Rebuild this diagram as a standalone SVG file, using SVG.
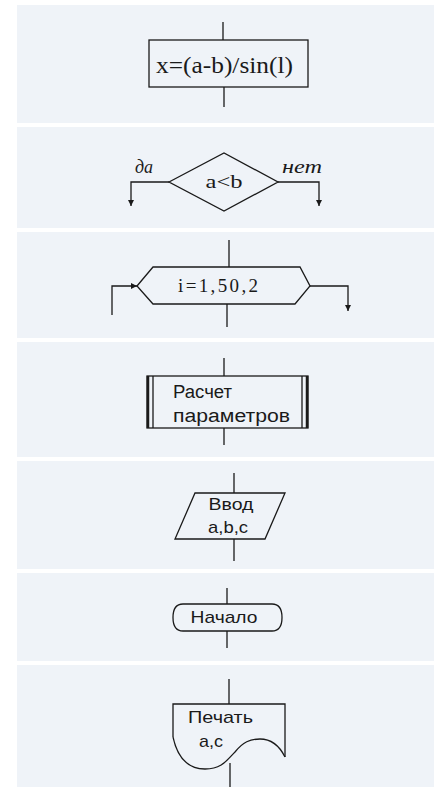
<svg xmlns="http://www.w3.org/2000/svg" width="434" height="787" viewBox="0 0 434 787">
<style>
.bg{fill:#eff3f8}
.ln{stroke:#1a1a1a;stroke-width:1.3;fill:none}
.sh{stroke:#1a1a1a;stroke-width:1.3;fill:none}
.serif{font-family:"Liberation Serif","Times New Roman",serif;fill:#1a1a1a}
.sans{font-family:"Liberation Sans",Arial,sans-serif;fill:#1a1a1a}
.it{font-family:"Liberation Serif",serif;font-style:italic;fill:#1a1a1a}
</style>
<defs>
<marker id="ah" viewBox="0 0 8 8" refX="8" refY="4" markerWidth="6" markerHeight="6" markerUnits="userSpaceOnUse" orient="auto">
<path d="M0,0 L8,4 L0,8 Z" fill="#1a1a1a"/>
</marker>
</defs>
<rect width="434" height="787" fill="#ffffff"/>
<g id="panels">
<rect class="bg" x="17" y="5" width="417" height="118"/>
<rect class="bg" x="17" y="127" width="417" height="101"/>
<rect class="bg" x="17" y="232" width="417" height="106"/>
<rect class="bg" x="17" y="342" width="417" height="115"/>
<rect class="bg" x="17" y="461" width="417" height="108"/>
<rect class="bg" x="17" y="573" width="417" height="88"/>
<rect class="bg" x="17" y="665" width="417" height="122"/>
</g>
<g id="connectors">
<line class="ln" x1="223" y1="22" x2="223" y2="40"/>
<line class="ln" x1="224" y1="87" x2="224" y2="107"/>
<polyline class="ln" points="169,182 131,182 131,206" marker-end="url(#ah)"/>
<polyline class="ln" points="278,182 319,182 319,206" marker-end="url(#ah)"/>
<line class="ln" x1="229" y1="240" x2="229" y2="267"/>
<line class="ln" x1="227" y1="304" x2="227" y2="327"/>
<polyline class="ln" points="112,315 112,286 137,286" marker-end="url(#ah)"/>
<polyline class="ln" points="310,286 348,286 348,311" marker-end="url(#ah)"/>
<line class="ln" x1="224" y1="358" x2="224" y2="376"/>
<line class="ln" x1="224" y1="428" x2="224" y2="445"/>
<line class="ln" x1="234" y1="473" x2="234" y2="493"/>
<line class="ln" x1="234" y1="539" x2="234" y2="561"/>
<line class="ln" x1="227" y1="588" x2="227" y2="604"/>
<line class="ln" x1="227" y1="631" x2="227" y2="648"/>
<line class="ln" x1="229" y1="679" x2="229" y2="704"/>
<line class="ln" x1="230" y1="763" x2="230" y2="787"/>
</g>
<g id="process">
<rect class="sh" x="149" y="40" width="159" height="47"/>
<text class="serif" x="156" y="73" font-size="23" textLength="137" lengthAdjust="spacingAndGlyphs">x=(a-b)/sin(l)</text>
</g>
<g id="decision">
<polygon class="sh" points="169,182 224,153 278,182 224,211"/>
<text class="serif" x="224" y="188" font-size="19" text-anchor="middle" textLength="37" lengthAdjust="spacingAndGlyphs">a&lt;b</text>
<text class="it" x="135" y="173" font-size="18">да</text>
<text class="it" x="282" y="173" font-size="18" textLength="40" lengthAdjust="spacingAndGlyphs">нет</text>
</g>
<g id="loop">
<polygon class="sh" points="137,286 153,267 300,267 310,286 295,304 153,304"/>
<text class="serif" x="218" y="292" font-size="19" text-anchor="middle" textLength="80" lengthAdjust="spacing">i=1,50,2</text>
</g>
<g id="subprocess">
<rect class="sh" x="147" y="376" width="161" height="52"/>
<line stroke="#1a1a1a" stroke-width="2.5" x1="148" y1="376" x2="148" y2="428"/>
<line class="ln" x1="153" y1="376" x2="153" y2="428"/>
<line class="ln" x1="302" y1="376" x2="302" y2="428"/>
<line stroke="#1a1a1a" stroke-width="2.5" x1="307" y1="376" x2="307" y2="428"/>
<text class="sans" x="173" y="398" font-size="18" textLength="59" lengthAdjust="spacingAndGlyphs">Расчет</text>
<text class="sans" x="173" y="422" font-size="18" textLength="117" lengthAdjust="spacingAndGlyphs">параметров</text>
</g>
<g id="input">
<polygon class="sh" points="195,493 285,493 265,539 175,539"/>
<text class="sans" x="231" y="510" font-size="17" text-anchor="middle" textLength="45" lengthAdjust="spacingAndGlyphs">Ввод</text>
<text class="sans" x="228" y="533" font-size="17" text-anchor="middle" textLength="40" lengthAdjust="spacingAndGlyphs">a,b,c</text>
</g>
<g id="terminal">
<path class="sh" stroke-width="2" d="M183,604 L272,604 Q282,604 282,617.5 Q282,631 272,631 L183,631 Q173,631 173,617.5 Q173,604 183,604 Z"/>
<text class="sans" x="224" y="623" font-size="17" text-anchor="middle" textLength="67" lengthAdjust="spacingAndGlyphs">Начало</text>
</g>
<g id="document">
<path class="sh" d="M173,737 L173,704 L285,704 L285,757"/>
<path class="sh" stroke-width="1.8" d="M173,737 C178,760 190,769 205,769 C222,769 227,760 235,752 C243,742 250,739 260,739 C272,739 280,747 285,757"/>
<text class="sans" x="188" y="723" font-size="17" textLength="65" lengthAdjust="spacingAndGlyphs">Печать</text>
<text class="sans" x="199" y="747" font-size="17" textLength="24" lengthAdjust="spacingAndGlyphs">a,c</text>
</g>
</svg>
